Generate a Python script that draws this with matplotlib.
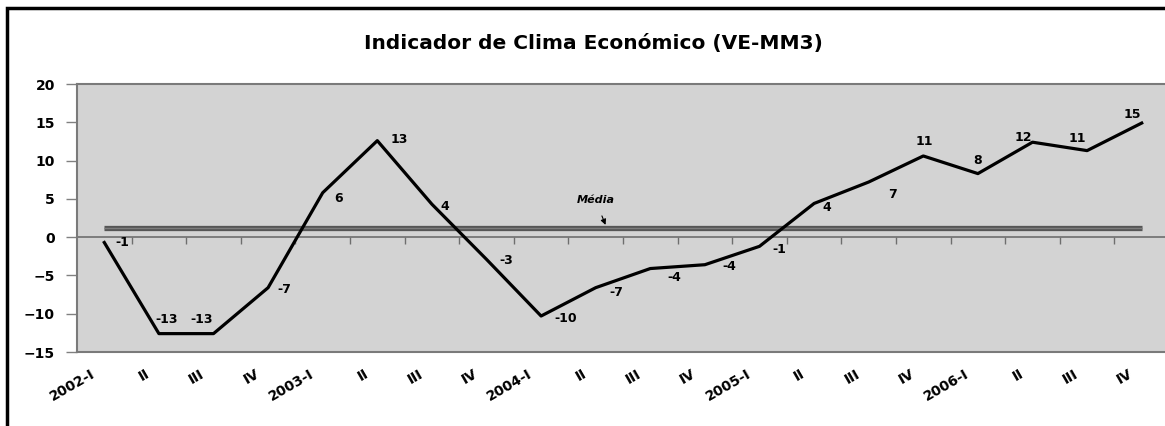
import numpy as np
import matplotlib
matplotlib.use('Agg')
import matplotlib.pyplot as plt
from matplotlib.patches import Rectangle
from matplotlib.transforms import ScaledTranslation

plt.rcParams['font.family'] = ['DejaVu Sans']
plt.rcParams['font.weight'] = 'bold'

# datos
trimestres = ['2002-I', 'II', 'III', 'IV', '2003-I', 'II', 'III', 'IV',
              '2004-I', 'II', 'III', 'IV', '2005-I', 'II', 'III', 'IV',
              '2006-I', 'II', 'III', 'IV']
indicador = [-0.7, -12.6, -12.6, -6.6, 5.8, 12.6, 4.3, -2.9, -10.3, -6.6,
             -4.1, -3.6, -1.2, 4.4, 7.2, 10.6, 8.3, 12.4, 11.3, 14.9]
media = 1.2

# posicion de las etiquetas (pixeles respecto al punto)
lab_off = [(18, 0), (8, 14), (-12, 14), (16, -2), (16, -6), (22, 1), (13, -2),
           (20, -1), (25, -2), (21, -5), (24, -9), (24, -2), (20, -3), (13, -4),
           (24, -12), (1, 14), (0, 13), (-9, 5), (-10, 12), (-9, 9)]

fig = plt.figure(figsize=(11.65, 4.26), dpi=100)
W, H = 1165, 426

# marco negro
fig.patches.append(Rectangle((7 / W, -0.1), 1.2, 1.1 - 8 / H, transform=fig.transFigure,
                             fill=False, edgecolor='black', linewidth=2.5))

ax = fig.add_axes([77 / W, 1 - 352 / H, 1092 / W, 268 / H])
ax.set_facecolor('#d3d3d3')

x = np.arange(len(trimestres))
ax.plot(x, [media] * len(x), color='#555555', linewidth=3.8, solid_capstyle='butt', zorder=2)
ax.plot(x, [media] * len(x), color='#7c7c7c', linewidth=1.0, solid_capstyle='butt', zorder=2)
ax.axhline(0, color='#6e6e6e', linewidth=1.2, zorder=2)
ax.plot(x, indicador, color='black', linewidth=2.3, zorder=3)

for i, v in enumerate(indicador):
    ax.annotate(f'{v:.0f}', (x[i], v), xytext=lab_off[i], textcoords='offset pixels',
                ha='center', va='center', fontsize=9, fontweight='bold', zorder=4)

# Media
ax.annotate('Média', xy=(9.18, media + 0.4), xytext=(9.0, 4.8), ha='center', va='center',
            fontsize=8, fontweight='bold', fontstyle='italic',
            arrowprops=dict(arrowstyle='-|>', color='black', lw=0.8, mutation_scale=8,
                            shrinkA=6, shrinkB=0))

ax.set_xlim(-0.5, len(x) - 0.5)
ax.set_ylim(-15, 20)
ax.set_yticks(range(-15, 21, 5))
ax.tick_params(axis='y', length=8, width=1, color='#808080', pad=8, labelsize=10)

ax.set_xticks(x)
ax.set_xticklabels(trimestres, rotation=30, ha='right', va='center', rotation_mode='anchor',
                   fontsize=10, fontweight='bold')
ax.tick_params(axis='x', length=0, pad=15)
off = ScaledTranslation(-10 / 100, 0, fig.dpi_scale_trans)
for lb in ax.get_xticklabels():
    lb.set_transform(lb.get_transform() + off)

# marcas en el eje de cero
sec = ax.secondary_xaxis(15 / 35)
sec.set_xticks(np.arange(0.5, len(x) - 1, 1.0))
sec.set_xticklabels([])
sec.tick_params(axis='x', direction='out', length=5, width=1, color='#6e6e6e')
sec.spines['bottom'].set_visible(False)
sec.spines['top'].set_visible(False)

for s in ['top', 'left', 'bottom', 'right']:
    ax.spines[s].set_color('#7a7a7a')
    ax.spines[s].set_linewidth(1.5)

fig.text(593 / W, 1 - 44 / H, 'Indicador de Clima Económico (VE-MM3)', ha='center', va='center',
         fontsize=14.5, fontweight='bold')

fig.savefig('out.png', dpi=100, facecolor='white')
